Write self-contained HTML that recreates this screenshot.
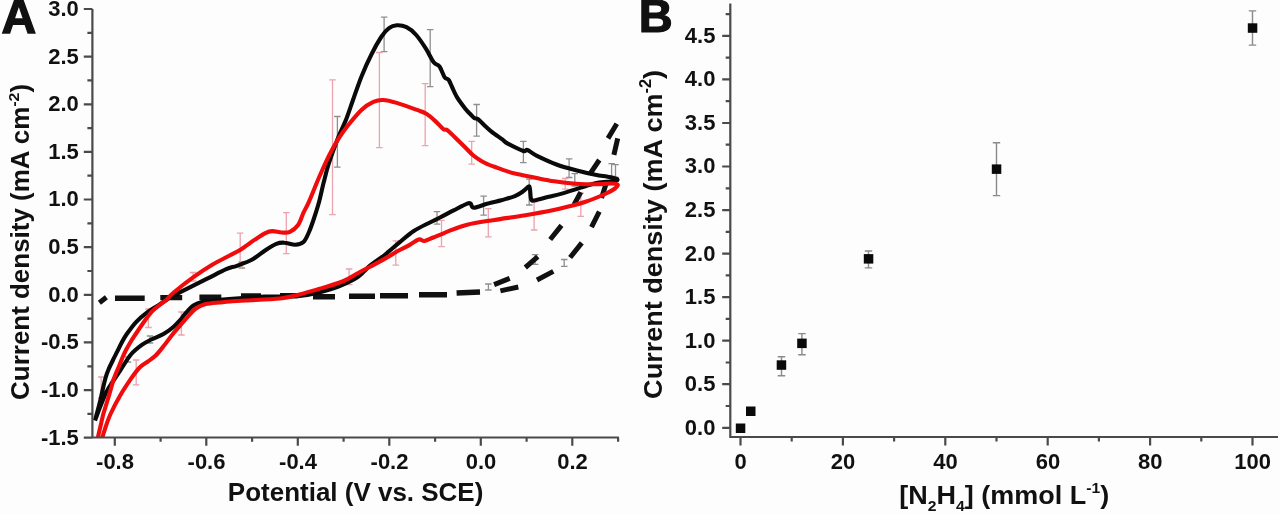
<!DOCTYPE html>
<html><head><meta charset="utf-8"><title>Figure</title>
<style>html,body{margin:0;padding:0;background:#fdfdfd;width:1280px;height:514px;overflow:hidden}svg{display:block;will-change:transform}</style>
</head><body>
<svg width="1280" height="514" viewBox="0 0 1280 514">
<rect width="1280" height="514" fill="#fdfdfd"/>
<defs><clipPath id="ca"><rect x="60" y="0" width="563.9" height="437"/></clipPath></defs>
<g clip-path="url(#ca)">
<path d="M337.4 116.5V167.1M334.1 116.5H340.6M334.1 167.1H340.6" stroke="#8f8f8f" stroke-width="1.3" fill="none"/>
<path d="M384.1 17.1V51.6M380.9 17.1H387.4M380.9 51.6H387.4" stroke="#8f8f8f" stroke-width="1.3" fill="none"/>
<path d="M430.2 29.6V86.6M426.9 29.6H433.4M426.9 86.6H433.4" stroke="#8f8f8f" stroke-width="1.3" fill="none"/>
<path d="M476.6 104.5V136.2M473.4 104.5H479.9M473.4 136.2H479.9" stroke="#8f8f8f" stroke-width="1.3" fill="none"/>
<path d="M523.4 141.3V162.7M520.1 141.3H526.6M520.1 162.7H526.6" stroke="#8f8f8f" stroke-width="1.3" fill="none"/>
<path d="M569.1 158.8V177.5M565.9 158.8H572.4M565.9 177.5H572.4" stroke="#8f8f8f" stroke-width="1.3" fill="none"/>
<path d="M611.6 163.6V176.3M608.4 163.6H614.9M608.4 176.3H614.9" stroke="#8f8f8f" stroke-width="1.3" fill="none"/>
<path d="M615.5 164.6V177.3M612.2 164.6H618.8M612.2 177.3H618.8" stroke="#8f8f8f" stroke-width="1.3" fill="none"/>
<path d="M437 211.6V224.2M433.8 211.6H440.2M433.8 224.2H440.2" stroke="#8f8f8f" stroke-width="1.3" fill="none"/>
<path d="M483.6 196.1V215.2M480.4 196.1H486.9M480.4 215.2H486.9" stroke="#8f8f8f" stroke-width="1.3" fill="none"/>
<path d="M529.2 179.1V205M526 179.1H532.5M526 205H532.5" stroke="#8f8f8f" stroke-width="1.3" fill="none"/>
<path d="M574.8 173.6V186M571.5 173.6H578M571.5 186H578" stroke="#8f8f8f" stroke-width="1.3" fill="none"/>
<path d="M241.8 262V268M238.6 262H245.1M238.6 268H245.1" stroke="#8f8f8f" stroke-width="1.3" fill="none"/>
<path d="M535.1 254.6V264.3M531.9 254.6H538.4M531.9 264.3H538.4" stroke="#8f8f8f" stroke-width="1.3" fill="none"/>
<path d="M564.2 259.5V266.3M561 259.5H567.5M561 266.3H567.5" stroke="#8f8f8f" stroke-width="1.3" fill="none"/>
<path d="M488.4 284V290M485.1 284H491.6M485.1 290H491.6" stroke="#8f8f8f" stroke-width="1.3" fill="none"/>
<path d="M150 336V343M146.8 336H153.2M146.8 343H153.2" stroke="#8f8f8f" stroke-width="1.3" fill="none"/>
<path d="M128 357V362M124.8 357H131.2M124.8 362H131.2" stroke="#8f8f8f" stroke-width="1.3" fill="none"/>
<path d="M332.5 79.8V214.7M329.2 79.8H335.8M329.2 214.7H335.8" stroke="#eba3ad" stroke-width="1.3" fill="none"/>
<path d="M379.4 52.5V147.7M376.1 52.5H382.6M376.1 147.7H382.6" stroke="#eba3ad" stroke-width="1.3" fill="none"/>
<path d="M425.2 83.7V145.7M421.9 83.7H428.4M421.9 145.7H428.4" stroke="#eba3ad" stroke-width="1.3" fill="none"/>
<path d="M471.7 141.3V164.2M468.4 141.3H474.9M468.4 164.2H474.9" stroke="#eba3ad" stroke-width="1.3" fill="none"/>
<path d="M286.3 212.7V253.6M283.1 212.7H289.6M283.1 253.6H289.6" stroke="#eba3ad" stroke-width="1.3" fill="none"/>
<path d="M240.2 233.1V267M236.9 233.1H243.4M236.9 267H243.4" stroke="#eba3ad" stroke-width="1.3" fill="none"/>
<path d="M193.1 272.5V281M189.8 272.5H196.3M189.8 281H196.3" stroke="#eba3ad" stroke-width="1.3" fill="none"/>
<path d="M148.4 309V327.5M145.2 309H151.7M145.2 327.5H151.7" stroke="#eba3ad" stroke-width="1.3" fill="none"/>
<path d="M101.2 377V398M98 377H104.5M98 398H104.5" stroke="#eba3ad" stroke-width="1.3" fill="none"/>
<path d="M136.2 360V384.9M132.9 360H139.4M132.9 384.9H139.4" stroke="#eba3ad" stroke-width="1.3" fill="none"/>
<path d="M181.4 312V335M178.2 312H184.7M178.2 335H184.7" stroke="#eba3ad" stroke-width="1.3" fill="none"/>
<path d="M349.1 269V284.6M345.9 269H352.4M345.9 284.6H352.4" stroke="#eba3ad" stroke-width="1.3" fill="none"/>
<path d="M395.8 240.9V265.2M392.6 240.9H399.1M392.6 265.2H399.1" stroke="#eba3ad" stroke-width="1.3" fill="none"/>
<path d="M441.5 220.4V246.7M438.2 220.4H444.8M438.2 246.7H444.8" stroke="#eba3ad" stroke-width="1.3" fill="none"/>
<path d="M488.3 208.6V236.8M485.1 208.6H491.6M485.1 236.8H491.6" stroke="#eba3ad" stroke-width="1.3" fill="none"/>
<path d="M534.1 201.8V230M530.9 201.8H537.4M530.9 230H537.4" stroke="#eba3ad" stroke-width="1.3" fill="none"/>
<path d="M580.8 193.1V216.4M577.5 193.1H584M577.5 216.4H584" stroke="#eba3ad" stroke-width="1.3" fill="none"/>
<path d="M565.2 178.5V189.2M562 178.5H568.5M562 189.2H568.5" stroke="#eba3ad" stroke-width="1.3" fill="none"/>
<path d="M115 298.2L144.7 298.2M160.3 297.6L182.2 297.6M199.4 297.2L221.3 297.2M241 296L261 296M280 295.6L298 295.6M313 296.8L335 296.8M349 296.2L375 296.2M380 295.8L408 295.8M419 294.7L447 294.7M456.6 293L480 292" stroke="#111" stroke-width="5.4" fill="none" stroke-linecap="butt"/>
<path d="M99.4 302.8L106.4 297.3M494.1 284.6L509.7 278.4M525.3 267.5L537.8 256.6M550.2 239.5L561.5 225.4M574 204.7L580.8 192.1M589.5 174.6L599.3 160M608 138.4L616.8 123.8M500.4 290.9L518.3 287M537 280L553.3 271.4M570.1 257.5L581.8 242.9M591.5 227.1L599.3 211.6M601.5 198L606 184M613.9 154.9L617.7 138.4" stroke="#111" stroke-width="5" fill="none" stroke-linecap="butt"/>
<path d="M95 420.5C95.9 417.2 99 405.8 100.3 400.5C101.6 395.2 101.9 392.8 102.8 389C103.7 385.2 104.6 381.2 105.5 378C106.4 374.8 107 373 108.3 370C109.5 367 111.5 363.1 113 360C114.5 356.9 115.8 354.5 117.2 351.7C118.6 348.9 119.9 345.9 121.5 343C123.1 340.1 124.3 337.5 126.8 334C129.3 330.5 132.9 325.4 136.3 321.8C139.7 318.2 143.6 315 147.2 312.3C150.8 309.6 154.9 307.4 158.1 305.4C161.3 303.3 164 301.5 166.3 300C168.6 298.5 168.2 298.3 171.7 296.4C175.2 294.5 181.5 291.5 187.3 288.6C193.1 285.7 200.2 282.1 206.7 278.9C213.2 275.7 221.2 271.4 226.2 269.2C231.2 267 232.5 267.4 236.8 265.8C241.1 264.2 247 262.4 251.8 259.8C256.6 257.2 261.3 252.9 265.4 250.2C269.5 247.5 273.1 245.1 276.3 243.8C279.5 242.6 281.2 242.5 284.4 242.7C287.6 242.8 292.1 244.8 295.3 244.7C298.5 244.6 301.2 244.1 303.5 242C305.8 239.9 307.1 236.2 309 232C310.9 227.8 312.9 221.7 314.6 216.5C316.3 211.3 317.8 206.8 319.3 201C320.8 195.2 322.2 188.1 323.8 182C325.4 175.9 326.2 171.7 328.6 164.2C331 156.7 335.5 144.4 338.4 137C341.3 129.6 343.7 125.7 346.1 119.5C348.5 113.3 350.4 107.3 353 100C355.6 92.7 358.6 83.5 361.7 75.9C364.8 68.3 368.1 61 371.4 54.5C374.6 48 378.3 41.4 381.2 37C384.1 32.6 386.4 30.1 389 28.2C391.6 26.2 393.8 25.5 396.7 25.3C399.6 25.1 403.2 25.6 406.5 27.2C409.8 28.8 413 31.4 416.2 35C419.4 38.6 423 44.1 425.9 48.6C428.8 53.1 431.4 59.3 433.7 62.3C436 65.3 437.7 64 439.5 66.5C441.3 69 443.2 75.1 444.7 77.3C446.2 79.5 447.3 78 448.6 79.8C449.9 81.6 451.1 85.1 452.5 88C453.9 90.9 455 94 457.1 97.4C459.2 100.8 462.8 105.5 464.9 108.2C467 110.9 468.4 112.2 470 113.8C471.6 115.4 472.8 117.1 474.2 118C475.6 118.9 476.5 118.1 478.1 119.2C479.7 120.3 481.4 122.5 483.6 124.6C485.8 126.7 488.3 129.1 491.4 131.6C494.5 134.1 499.6 137.4 502.3 139.4C505 141.4 504.3 141.7 507.8 143.6C511.3 145.5 520.1 149.9 523.4 151C526.6 152.1 525 149.2 527.3 150C529.6 150.8 532.1 153.5 537 155.9C541.9 158.3 550 162.1 556.5 164.5C563 166.9 569.4 168.5 575.9 170.2C582.4 171.9 590.2 173.7 595.4 174.8C600.6 175.9 603.5 176 607 176.6C610.5 177.2 614.7 177.9 616.3 178.6C617.9 179.3 618 180.1 616.5 180.6C615 181.1 610.5 181.4 607 181.8C603.5 182.2 599.9 182.3 595.4 183.3C590.9 184.3 585.5 186.2 580 187.9C574.5 189.6 567.8 191.9 562.6 193.4C557.4 194.9 553.5 195.7 548.9 196.8C544.3 197.9 538.2 199.8 535.3 200.2C532.3 200.6 532.1 201.4 531.2 199.5C530.3 197.6 530.4 190.8 529.9 188.6C529.4 186.4 529.6 186.1 528.5 186.6C527.4 187.1 525.4 189.7 523.1 191.3C520.8 192.9 518.5 194.6 514.9 196.1C511.3 197.6 505.8 198.9 501.3 200.2C496.8 201.4 492.2 202.3 487.7 203.6C483.1 204.8 476.9 207.7 474 207.7C471.1 207.7 471.7 204.3 470.6 203.6C469.5 202.9 470 202.5 467.2 203.6C464.4 204.7 458.1 208.1 453.6 210.4C449.1 212.7 444.2 215.4 440 217.5C435.8 219.6 432.8 220.9 428.4 223.2C424 225.4 418.7 227.8 413.8 231C408.9 234.2 404.1 238.6 399.2 242.6C394.3 246.6 389.5 251.2 384.6 255C379.7 258.9 374.5 262 370 265.7C365.5 269.4 363.1 273.5 357.8 277C352.5 280.5 344.9 283.9 338.4 286.5C331.9 289.1 325.4 290.9 318.9 292.5C312.4 294.1 306 295.3 299.5 296C293 296.7 285.7 296.4 280 296.5C274.3 296.6 272.5 296.2 265.1 296.6C257.8 297 244.7 297.9 235.9 298.6C227.2 299.3 218.3 300.1 212.6 300.7C206.9 301.3 204.9 301.2 201.7 302C198.5 302.8 196.2 303.5 193.5 305.4C190.8 307.3 187.6 311.1 185.3 313.6C183 316.1 181.9 318.1 179.9 320.4C177.9 322.7 175.8 324.9 173.1 327.2C170.4 329.5 167.1 331.9 163.5 334C159.9 336.1 154.9 337.7 151.3 339.5C147.7 341.3 145.2 342.4 141.8 344.9C138.4 347.4 134.5 350.3 130.9 354.5C127.4 358.7 123.6 365.4 120.5 370C117.4 374.6 114.8 378.5 112.5 382C110.2 385.5 108.6 387.5 106.8 391.1C105 394.7 103.5 398.7 101.5 403.6C99.5 408.5 96.1 417.7 95 420.5" stroke="#0a0a0a" stroke-width="4.1" fill="none" stroke-linejoin="round"/>
<path d="M97.3 440C97.8 437.8 99.3 431.2 100.3 427C101.3 422.8 102.1 418.7 103.2 414.5C104.3 410.3 105.8 405.9 107 402C108.2 398.1 109.2 394.7 110.3 391C111.4 387.3 112.4 383.1 113.4 380C114.4 376.9 115.3 375 116.3 372.5C117.3 370 118.5 367.5 119.5 365C120.5 362.5 121.4 360 122.5 357.5C123.6 355 124.7 352.5 126 350C127.3 347.5 128.8 345 130.3 342.5C131.8 340 132.6 338.8 135.1 335C137.6 331.2 142.4 324 145.3 320C148.2 316 150 313.5 152.6 310.9C155.2 308.2 158.5 305.9 160.8 304.1C163.1 302.3 164.2 301.9 166.3 300C168.5 298.1 169.2 296.3 173.7 292.5C178.2 288.7 186.6 282.1 193.1 277.4C199.6 272.7 206.9 267.9 212.6 264.5C218.3 261.1 222.5 259.3 227.2 256.8C231.9 254.3 236.3 252.3 240.9 249.5C245.5 246.7 250.4 242.6 254.5 239.9C258.6 237.2 262.4 234.6 265.4 233.1C268.3 231.6 269.5 231.2 272.2 231.1C274.9 231 278.8 232.4 281.7 232.5C284.6 232.6 287.2 233.1 289.9 231.8C292.6 230.6 295.8 228.2 298.1 225C300.4 221.8 301.7 216.6 303.5 212.7C305.3 208.8 306.3 207.6 308.9 201.8C311.5 196 315.6 185.4 318.9 177.8C322.2 170.2 325.4 162.9 328.6 156.4C331.9 149.9 335.1 144.1 338.4 138.9C341.6 133.7 344.2 130.2 348.1 125.3C352 120.4 357.5 113.6 361.7 109.7C365.9 105.8 369.8 103.5 373.4 101.9C377 100.3 379.2 99.8 383.1 100C387 100.2 391.2 101.3 396.7 102.9C402.2 104.5 411.3 107.9 416.2 109.7C421.1 111.5 422.7 111.6 425.9 113.6C429.1 115.5 432.7 118.8 435.6 121.4C438.5 124 441.4 127.7 443.4 129.2C445.3 130.7 445.4 128.8 447.3 130.2C449.2 131.6 452.2 134.7 455.1 137.5C458 140.3 461.9 144.1 464.8 147C467.8 149.9 470.2 152.8 472.8 155C475.4 157.2 477.9 158.9 480.5 160.5C483.1 162.1 486.1 163.4 488.4 164.5C490.7 165.6 491.2 165.6 494.5 166.8C497.8 168 503.6 170.2 508.1 171.6C512.6 173 517.2 174 521.7 175C526.2 176 530.8 176.8 535.3 177.7C539.8 178.6 544.5 179.6 549 180.4C553.5 181.2 558.1 181.8 562.6 182.4C567.1 183 570.7 183.5 576.2 183.8C581.7 184.1 589.6 184.4 595.4 184.3C601.2 184.2 607.3 183.5 611 183.5C614.7 183.5 616.9 183.7 617.6 184.5C618.3 185.3 617.1 186.9 615 188.5C612.9 190.1 610 191.8 605.1 194C600.2 196.2 591.6 199.8 585.6 201.8C579.6 203.9 575.5 204.8 569.4 206.3C563.3 207.9 557 209.5 549 211.1C541 212.7 530.8 214.3 521.7 215.8C512.6 217.3 503.6 218.4 494.5 219.9C485.4 221.4 475.1 222.7 467.2 224.7C459.2 226.7 450.8 230.3 446.8 231.8C442.8 233.3 445.2 232.7 443 233.6C440.8 234.5 436.4 236.3 433.3 237.5C430.2 238.7 426.9 240.7 424.5 241C422.1 241.3 421.3 238.8 418.7 239.5C416.1 240.2 412.5 243.4 408.9 245.4C405.3 247.4 401.4 249.1 397.3 251.3C393.2 253.6 389.2 256.3 384.6 258.9C380.1 261.5 374.5 264.3 370 266.7C365.5 269.1 362.4 270.7 357.8 273.2C353.2 275.7 349 278.9 342.5 281.5C336 284.1 326.1 286.9 318.9 289C311.7 291.1 306 292.8 299.5 294.4C293 296 289 297.5 280 298.5C271 299.5 253.9 300 245.6 300.5C237.3 301 234.4 301.2 230 301.5C225.6 301.8 223.4 302.1 219.4 302.5C215.4 302.9 209.7 303.2 205.8 304.1C201.9 305.1 199.1 306.2 196.2 308.2C193.2 310.2 190.8 313.4 188.1 316.3C185.4 319.2 182.6 322.7 179.9 325.9C177.2 329.1 174.4 332 171.7 335.4C169 338.8 166.2 342.9 163.5 346.3C160.8 349.7 158 353.3 155.4 355.8C152.8 358.3 150.7 359.5 148 361.5C145.3 363.5 142.4 364.7 139.4 367.8C136.4 370.9 133.2 375.5 130 380.2C126.8 384.9 123.3 390.1 120 395.8C116.7 401.5 112.8 409.1 110.3 414.5C107.8 419.9 106.8 423.8 105.3 428C103.8 432.2 102.2 438 101.6 440" stroke="#f00c0c" stroke-width="4.1" fill="none" stroke-linejoin="round"/>
</g>
<path d="M92.4 9V437.5H618.9M83.8 437.7H92.4M83.8 390.1H92.4M83.8 342.4H92.4M83.8 294.8H92.4M83.8 247.2H92.4M83.8 199.5H92.4M83.8 151.9H92.4M83.8 104.3H92.4M83.8 56.6H92.4M83.8 9H92.4M87.4 413.9H92.4M87.4 366.3H92.4M87.4 318.6H92.4M87.4 271H92.4M87.4 223.3H92.4M87.4 175.7H92.4M87.4 128.1H92.4M87.4 80.4H92.4M87.4 32.8H92.4M114.8 437.5V445.8M206.3 437.5V445.8M297.8 437.5V445.8M389.3 437.5V445.8M480.8 437.5V445.8M572.3 437.5V445.8M160.6 437.5V441.8M252.1 437.5V441.8M343.6 437.5V441.8M435.1 437.5V441.8M526.6 437.5V441.8M618.1 437.5V441.8" stroke="#4a4a4a" stroke-width="2.2" fill="none"/>
<path d="M730.3 3.5V437H1278M722.2 427.8H730.3M722.2 384.2H730.3M722.2 340.7H730.3M722.2 297.2H730.3M722.2 253.6H730.3M722.2 210.1H730.3M722.2 166.5H730.3M722.2 123H730.3M722.2 79.4H730.3M722.2 35.9H730.3M725.7 406H730.3M725.7 362.5H730.3M725.7 318.9H730.3M725.7 275.4H730.3M725.7 231.8H730.3M725.7 188.3H730.3M725.7 144.7H730.3M725.7 101.2H730.3M725.7 57.6H730.3M725.7 14.1H730.3M740.5 437V445.6M842.9 437V445.6M945.3 437V445.6M1047.7 437V445.6M1150.1 437V445.6M1252.5 437V445.6M791.7 437V441.5M894.1 437V441.5M996.5 437V441.5M1098.9 437V441.5M1201.3 437V441.5" stroke="#4a4a4a" stroke-width="2.2" fill="none"/>
<rect x="735.8" y="423.5" width="9.5" height="9.5" fill="#0a0a0a"/>
<rect x="746" y="406.5" width="9.5" height="9.5" fill="#0a0a0a"/>
<path d="M781.5 356.8V375.8M777.7 356.8H785.2M777.7 375.8H785.2" stroke="#8a8a8a" stroke-width="1.4" fill="none"/>
<rect x="776.7" y="360.3" width="9.5" height="9.5" fill="#0a0a0a"/>
<path d="M801.9 333.6V354.7M798.2 333.6H805.7M798.2 354.7H805.7" stroke="#8a8a8a" stroke-width="1.4" fill="none"/>
<rect x="797.2" y="338.6" width="9.5" height="9.5" fill="#0a0a0a"/>
<path d="M868.5 251V267.9M864.8 251H872.2M864.8 267.9H872.2" stroke="#8a8a8a" stroke-width="1.4" fill="none"/>
<rect x="863.8" y="254.1" width="9.5" height="9.5" fill="#0a0a0a"/>
<path d="M996.5 142.8V195.6M992.8 142.8H1000.2M992.8 195.6H1000.2" stroke="#8a8a8a" stroke-width="1.4" fill="none"/>
<rect x="991.8" y="164.4" width="9.5" height="9.5" fill="#0a0a0a"/>
<path d="M1252.5 10.9V45.1M1248.8 10.9H1256.2M1248.8 45.1H1256.2" stroke="#8a8a8a" stroke-width="1.4" fill="none"/>
<rect x="1247.8" y="23.3" width="9.5" height="9.5" fill="#0a0a0a"/>
<text transform="translate(78.8 444.6) scale(1 1.001)" font-family="&quot;Liberation Sans&quot;, sans-serif" font-weight="bold" fill="#111" font-size="22" text-anchor="end">-1.5</text>
<text transform="translate(78.8 397) scale(1 1.001)" font-family="&quot;Liberation Sans&quot;, sans-serif" font-weight="bold" fill="#111" font-size="22" text-anchor="end">-1.0</text>
<text transform="translate(78.8 349.3) scale(1 1.001)" font-family="&quot;Liberation Sans&quot;, sans-serif" font-weight="bold" fill="#111" font-size="22" text-anchor="end">-0.5</text>
<text transform="translate(78.8 301.7) scale(1 1.001)" font-family="&quot;Liberation Sans&quot;, sans-serif" font-weight="bold" fill="#111" font-size="22" text-anchor="end">0.0</text>
<text transform="translate(78.8 254.1) scale(1 1.001)" font-family="&quot;Liberation Sans&quot;, sans-serif" font-weight="bold" fill="#111" font-size="22" text-anchor="end">0.5</text>
<text transform="translate(78.8 206.4) scale(1 1.001)" font-family="&quot;Liberation Sans&quot;, sans-serif" font-weight="bold" fill="#111" font-size="22" text-anchor="end">1.0</text>
<text transform="translate(78.8 158.8) scale(1 1.001)" font-family="&quot;Liberation Sans&quot;, sans-serif" font-weight="bold" fill="#111" font-size="22" text-anchor="end">1.5</text>
<text transform="translate(78.8 111.2) scale(1 1.001)" font-family="&quot;Liberation Sans&quot;, sans-serif" font-weight="bold" fill="#111" font-size="22" text-anchor="end">2.0</text>
<text transform="translate(78.8 63.5) scale(1 1.001)" font-family="&quot;Liberation Sans&quot;, sans-serif" font-weight="bold" fill="#111" font-size="22" text-anchor="end">2.5</text>
<text transform="translate(78.8 15.9) scale(1 1.001)" font-family="&quot;Liberation Sans&quot;, sans-serif" font-weight="bold" fill="#111" font-size="22" text-anchor="end">3.0</text>
<text transform="translate(115 468.6) scale(1 1.001)" font-family="&quot;Liberation Sans&quot;, sans-serif" font-weight="bold" fill="#111" font-size="22" text-anchor="middle">-0.8</text>
<text transform="translate(206.5 468.6) scale(1 1.001)" font-family="&quot;Liberation Sans&quot;, sans-serif" font-weight="bold" fill="#111" font-size="22" text-anchor="middle">-0.6</text>
<text transform="translate(298 468.6) scale(1 1.001)" font-family="&quot;Liberation Sans&quot;, sans-serif" font-weight="bold" fill="#111" font-size="22" text-anchor="middle">-0.4</text>
<text transform="translate(389.5 468.6) scale(1 1.001)" font-family="&quot;Liberation Sans&quot;, sans-serif" font-weight="bold" fill="#111" font-size="22" text-anchor="middle">-0.2</text>
<text transform="translate(481 468.6) scale(1 1.001)" font-family="&quot;Liberation Sans&quot;, sans-serif" font-weight="bold" fill="#111" font-size="22" text-anchor="middle">0.0</text>
<text transform="translate(572.5 468.6) scale(1 1.001)" font-family="&quot;Liberation Sans&quot;, sans-serif" font-weight="bold" fill="#111" font-size="22" text-anchor="middle">0.2</text>
<text transform="translate(715.4 434.7) scale(1 1.001)" font-family="&quot;Liberation Sans&quot;, sans-serif" font-weight="bold" fill="#111" font-size="22" text-anchor="end">0.0</text>
<text transform="translate(715.4 391.1) scale(1 1.001)" font-family="&quot;Liberation Sans&quot;, sans-serif" font-weight="bold" fill="#111" font-size="22" text-anchor="end">0.5</text>
<text transform="translate(715.4 347.6) scale(1 1.001)" font-family="&quot;Liberation Sans&quot;, sans-serif" font-weight="bold" fill="#111" font-size="22" text-anchor="end">1.0</text>
<text transform="translate(715.4 304.1) scale(1 1.001)" font-family="&quot;Liberation Sans&quot;, sans-serif" font-weight="bold" fill="#111" font-size="22" text-anchor="end">1.5</text>
<text transform="translate(715.4 260.5) scale(1 1.001)" font-family="&quot;Liberation Sans&quot;, sans-serif" font-weight="bold" fill="#111" font-size="22" text-anchor="end">2.0</text>
<text transform="translate(715.4 217) scale(1 1.001)" font-family="&quot;Liberation Sans&quot;, sans-serif" font-weight="bold" fill="#111" font-size="22" text-anchor="end">2.5</text>
<text transform="translate(715.4 173.4) scale(1 1.001)" font-family="&quot;Liberation Sans&quot;, sans-serif" font-weight="bold" fill="#111" font-size="22" text-anchor="end">3.0</text>
<text transform="translate(715.4 129.9) scale(1 1.001)" font-family="&quot;Liberation Sans&quot;, sans-serif" font-weight="bold" fill="#111" font-size="22" text-anchor="end">3.5</text>
<text transform="translate(715.4 86.3) scale(1 1.001)" font-family="&quot;Liberation Sans&quot;, sans-serif" font-weight="bold" fill="#111" font-size="22" text-anchor="end">4.0</text>
<text transform="translate(715.4 42.8) scale(1 1.001)" font-family="&quot;Liberation Sans&quot;, sans-serif" font-weight="bold" fill="#111" font-size="22" text-anchor="end">4.5</text>
<text transform="translate(740.7 468.8) scale(1 1.001)" font-family="&quot;Liberation Sans&quot;, sans-serif" font-weight="bold" fill="#111" font-size="22" text-anchor="middle">0</text>
<text transform="translate(843.1 468.8) scale(1 1.001)" font-family="&quot;Liberation Sans&quot;, sans-serif" font-weight="bold" fill="#111" font-size="22" text-anchor="middle">20</text>
<text transform="translate(945.5 468.8) scale(1 1.001)" font-family="&quot;Liberation Sans&quot;, sans-serif" font-weight="bold" fill="#111" font-size="22" text-anchor="middle">40</text>
<text transform="translate(1047.9 468.8) scale(1 1.001)" font-family="&quot;Liberation Sans&quot;, sans-serif" font-weight="bold" fill="#111" font-size="22" text-anchor="middle">60</text>
<text transform="translate(1150.3 468.8) scale(1 1.001)" font-family="&quot;Liberation Sans&quot;, sans-serif" font-weight="bold" fill="#111" font-size="22" text-anchor="middle">80</text>
<text transform="translate(1252.7 468.8) scale(1 1.001)" font-family="&quot;Liberation Sans&quot;, sans-serif" font-weight="bold" fill="#111" font-size="22" text-anchor="middle">100</text>
<text transform="translate(355.6 501) scale(1 1.001)" x="0" y="0" font-family="&quot;Liberation Sans&quot;, sans-serif" font-weight="bold" fill="#111" font-size="26.6" text-anchor="middle" textLength="255.5" lengthAdjust="spacingAndGlyphs">Potential (V vs. SCE)</text>
<text transform="translate(29.3 241.9) rotate(-90)" x="0" y="0" font-family="&quot;Liberation Sans&quot;, sans-serif" font-weight="bold" fill="#111" font-size="25.2" text-anchor="middle" textLength="316" lengthAdjust="spacingAndGlyphs">Current density (mA cm<tspan font-size="15.5" dy="-10.2">-2</tspan><tspan dy="10.2">)</tspan></text>
<text transform="translate(661.5 234.4) rotate(-90)" x="0" y="0" font-family="&quot;Liberation Sans&quot;, sans-serif" font-weight="bold" fill="#111" font-size="26.5" text-anchor="middle" textLength="329" lengthAdjust="spacingAndGlyphs">Current density (mA cm<tspan font-size="16" dy="-10.7">-2</tspan><tspan dy="10.7">)</tspan></text>
<text transform="translate(1004.2 503.8) scale(1 1.001)" x="0" y="0" font-family="&quot;Liberation Sans&quot;, sans-serif" font-weight="bold" fill="#111" font-size="26.6" text-anchor="middle" textLength="210" lengthAdjust="spacingAndGlyphs">[N<tspan font-size="15.5" dy="7.5">2</tspan><tspan dy="-7.5">H</tspan><tspan font-size="15.5" dy="7.5">4</tspan><tspan dy="-7.5">] (mmol L</tspan><tspan font-size="15.5" dy="-10.7">-1</tspan><tspan dy="10.7">)</tspan></text>
<text x="1.6" y="33.2" font-family="&quot;Liberation Sans&quot;, sans-serif" font-weight="bold" fill="#111" font-size="48" stroke="#111" stroke-width="1.4">A</text>
<text x="638.7" y="32" font-family="&quot;Liberation Sans&quot;, sans-serif" font-weight="bold" fill="#111" font-size="47" stroke="#111" stroke-width="1.2">B</text>
</svg>
</body></html>
